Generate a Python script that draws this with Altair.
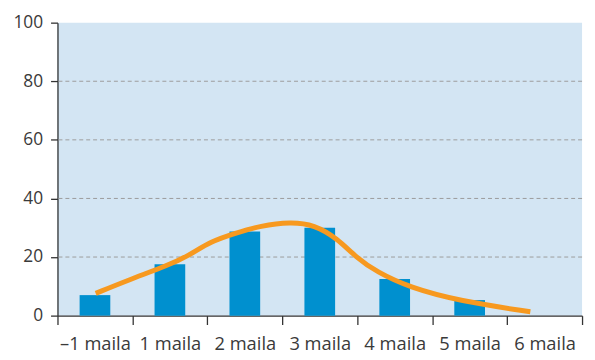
import altair as alt
import pandas as pd

categories = ["–1 maila", "1 maila", "2 maila", "3 maila", "4 maila", "5 maila", "6 maila"]
bar_categories = ["–1 maila", "1 maila", "2 maila", "3 maila", "4 maila", "5 maila"]
bar_values = [7, 17.5, 28.7, 30, 12.5, 5.3]

curve_x = [0.51, 0.95, 1.48, 1.75, 2.05, 2.37, 2.71, 3.11, 3.43, 3.73, 3.99, 4.26, 4.70, 5.36, 6.31]
curve_y = [7.6, 12.2, 17.2, 20.5, 25.4, 28.1, 30.7, 32.0, 31.0, 26.4, 19.8, 14.9, 9.6, 5.0, 1.3]

y_ticks = [0, 20, 40, 60, 80, 100]
grid_values = [20, 40, 60, 80]

FONT = "Open Sans"
TEXT = "#3a3a3a"
AXIS = "#333333"
FS = 18.5

bars_df = pd.DataFrame({"cat": bar_categories, "v": bar_values})
curve_df = pd.DataFrame({"x": curve_x, "y": curve_y})
grid_df = pd.DataFrame({"g": grid_values})

yscale = alt.Scale(domain=[0, 100], nice=False, zero=True)
yaxis = alt.Axis(
    title=None,
    values=y_ticks,
    grid=False,
    tickSize=7,
    tickColor=AXIS,
    domainColor=AXIS,
    domainWidth=1.3,
    tickWidth=1.3,
    labelPadding=8,
    labelFont=FONT,
    labelFontSize=17.5,
    labelColor=TEXT,
)

grid = alt.Chart(grid_df).mark_rule(color="#9c9c9c", strokeWidth=1, strokeDash=[4, 3]).encode(
    y=alt.Y("g:Q", scale=yscale, axis=yaxis)
)

bars = alt.Chart(bars_df).mark_bar(color="#0090cf", width=31).encode(
    x=alt.X(
        "cat:N",
        sort=categories,
        scale=alt.Scale(domain=categories, paddingInner=0, paddingOuter=0),
        axis=alt.Axis(
            title=None,
            labelAngle=0,
            tickBand="extent",
            tickSize=9,
            tickColor=AXIS,
            domainColor=AXIS,
            domainWidth=1.3,
            tickWidth=1.3,
            labelPadding=10,
            labelFont=FONT,
            labelFontSize=FS,
            labelColor=TEXT,
            labelOverlap=False,
            labelBound=False,
        ),
    ),
    y=alt.Y("v:Q", scale=yscale, axis=yaxis),
)

line = alt.Chart(curve_df).mark_line(
    color="#f7991f", strokeWidth=5, interpolate="basis", strokeCap="butt"
).encode(
    x=alt.X("x:Q", scale=alt.Scale(domain=[0, 7], nice=False, zero=False), axis=None),
    y=alt.Y("y:Q", scale=yscale, axis=yaxis),
)

chart = (
    alt.layer(grid, bars, line)
    .resolve_scale(x="independent")
    .properties(
        width=530,
        height=296,
        autosize=alt.AutoSizeParams(type="none"),
        padding={"left": 50, "top": 13, "right": 5, "bottom": 41},
    )
    .configure_view(stroke=None, fill="#d3e5f3")
)

chart.save("out.html", embed_options={"renderer": "svg", "actions": False})
